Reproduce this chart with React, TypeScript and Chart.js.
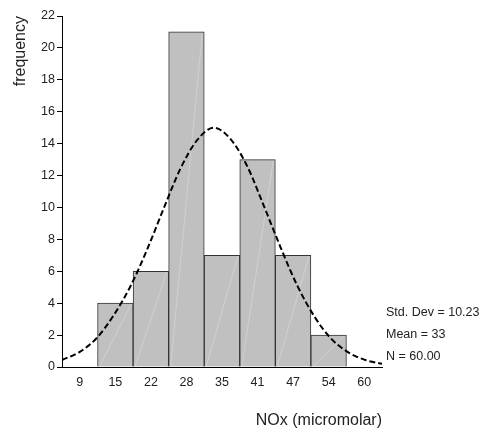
import React, { useEffect, useRef } from "react";
import { Chart, registerables } from "chart.js";

Chart.register(...registerables);

// ---- data ----
const binLabels = ["9", "15", "22", "28", "35", "41", "47", "54", "60"];
const frequencies = [0, 4, 6, 21, 7, 13, 7, 2, 0];

// fitted normal curve (x in NOx units, y in frequency)
const curveX = [5.8, 9, 12, 15, 18, 21, 24, 27, 30, 33, 36, 39, 42, 45, 48, 51, 54, 57, 60, 63.2];
const curveY = [0.44, 0.95, 1.8, 3.2, 5.0, 7.3, 9.9, 12.4, 14.2, 15.0, 14.3, 12.6, 10.1, 7.5, 5.1, 3.2, 1.8, 0.95, 0.46, 0.2];

const statsLines = ["Std. Dev = 10.23", "Mean = 33", "N = 60.00"];
const yTitle = "frequency";
const xTitle = "NOx (micromolar)";

const FONT = "'Liberation Sans', Arial, Helvetica, sans-serif";

const barDiagonals = {
  id: "barDiagonals",
  afterDatasetDraw(chart: any, args: any) {
    if (args.index !== 0) return;
    const ctx = chart.ctx;
    ctx.save();
    ctx.strokeStyle = "rgba(255,255,255,0.25)";
    ctx.lineWidth = 1;
    args.meta.data.forEach((bar: any) => {
      const p = bar.getProps(["x", "y", "base", "width"], true);
      if (Math.abs(p.base - p.y) < 1) return;
      ctx.beginPath();
      ctx.moveTo(p.x - p.width / 2 + 2, p.base);
      ctx.lineTo(p.x + p.width / 2 - 2, p.y + 1);
      ctx.stroke();
    });
    ctx.restore();
  },
};

const statsText = {
  id: "statsText",
  afterDraw(chart: any) {
    const ctx = chart.ctx;
    const { right, bottom } = chart.chartArea;
    ctx.save();
    ctx.fillStyle = "#222";
    ctx.font = `12.5px ${FONT}`;
    ctx.textAlign = "left";
    ctx.textBaseline = "middle";
    statsLines.forEach((t, i) => {
      ctx.fillText(t, right + 4, bottom - 10 - 22 * (statsLines.length - 1 - i));
    });
    ctx.restore();
  },
};

export default function App() {
  const ref = useRef<HTMLCanvasElement | null>(null);

  useEffect(() => {
    if (!ref.current) return;
    const chart = new Chart(ref.current, {
      data: {
        labels: binLabels,
        datasets: [
          {
            type: "bar",
            data: frequencies,
            backgroundColor: "#c0c0c0",
            borderColor: "#333333",
            borderWidth: 1,
            barPercentage: 1,
            categoryPercentage: 1,
            grouped: false,
            order: 1,
            xAxisID: "x",
          } as any,
          {
            type: "line",
            data: curveX.map((x, i) => ({ x, y: curveY[i] })),
            borderColor: "#000",
            borderWidth: 2,
            borderDash: [6, 3],
            pointRadius: 0,
            cubicInterpolationMode: "monotone",
            fill: false,
            order: 0,
            xAxisID: "xc",
          } as any,
        ],
      },
      options: {
        responsive: false,
        animation: false,
        devicePixelRatio: 1,
        layout: { padding: { top: 16, right: 105, left: 0, bottom: 0 } },
        plugins: {
          legend: { display: false },
          tooltip: { enabled: false },
        },
        scales: {
          x: {
            type: "category",
            offset: true,
            grid: { display: false, drawTicks: false },
            border: { display: true, color: "#000", width: 1 },
            ticks: { color: "#222", font: { family: FONT, size: 12.5 }, padding: 8 },
            title: {
              display: true,
              text: xTitle,
              align: "end",
              color: "#222",
              font: { family: FONT, size: 16 },
              padding: { top: 0, bottom: 1 },
            },
            afterFit: (s: any) => {
              s.height = 64;
            },
          },
          xc: {
            type: "linear",
            display: false,
            min: 5.8125,
            max: 63.1875,
          },
          y: {
            min: 0,
            max: 22,
            ticks: { stepSize: 2, color: "#222", font: { family: FONT, size: 12.5 }, padding: 2 },
            grid: { display: true, drawOnChartArea: false, drawTicks: true, tickLength: 5, color: "#000" },
            border: { display: true, color: "#000", width: 1 },
            title: {
              display: true,
              text: yTitle,
              align: "end",
              color: "#222",
              font: { family: FONT, size: 16 },
              padding: { top: 11, bottom: 0 },
            },
            afterFit: (s: any) => {
              s.width = 62;
            },
          },
        },
      } as any,
      plugins: [barDiagonals, statsText],
    });
    return () => chart.destroy();
  }, []);

  return (
    <div style={{ position: "fixed", left: 0, top: 0, width: 487, height: 431, background: "#fff" }}>
      <canvas ref={ref} width={487} height={431} style={{ width: 487, height: 431 }} />
    </div>
  );
}
